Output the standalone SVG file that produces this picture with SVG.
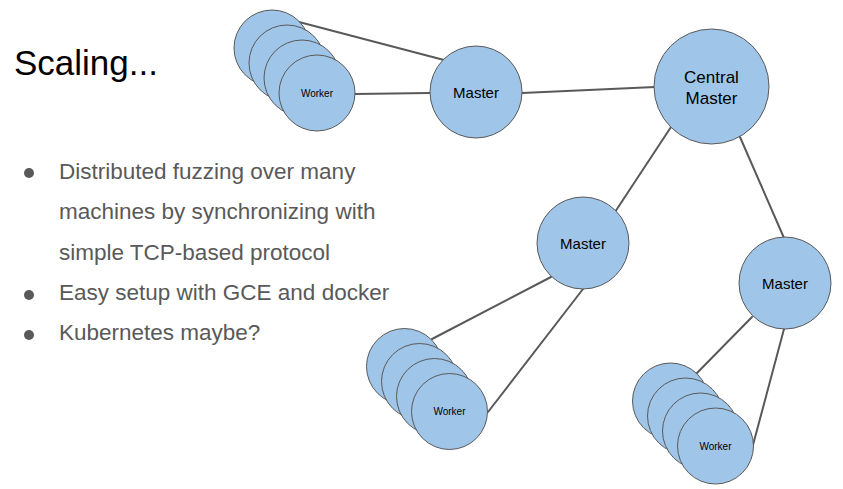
<svg xmlns="http://www.w3.org/2000/svg" width="843" height="489" viewBox="0 0 843 489">
<style>
.n{fill:#9fc5e8;stroke:#595959;stroke-width:1}
.e{stroke:#595959;stroke-width:2;fill:none;stroke-linecap:round}
.t{font-family:"Liberation Sans",Arial,sans-serif;fill:#000;text-anchor:middle}
.m{font-size:15px}
.c{font-size:17px}
.w{font-size:10px}
.b{font-family:"Liberation Sans",Arial,sans-serif;font-size:22.5px;fill:#595959}
</style>
<rect width="843" height="489" fill="#fff"/>
<text x="14" y="75" font-family="Liberation Sans, Arial, sans-serif" font-size="35" fill="#000">Scaling...</text>
<g id="bullets">
<circle cx="29" cy="173" r="5" fill="#595959"/>
<circle cx="29" cy="295" r="5" fill="#595959"/>
<circle cx="29" cy="335" r="5" fill="#595959"/>
<text class="b" x="59" y="179">Distributed fuzzing over many</text>
<text class="b" x="59" y="219">machines by synchronizing with</text>
<text class="b" x="59" y="260">simple TCP-based protocol</text>
<text class="b" x="59" y="300">Easy setup with GCE and docker</text>
<text class="b" x="59" y="340">Kubernetes maybe?</text>
</g>
<g id="connectors">
<line class="e" x1="299" y1="22" x2="444" y2="60"/>
<line class="e" x1="355" y1="94" x2="430" y2="93"/>
<line class="e" x1="522" y1="93" x2="655" y2="87"/>
<line class="e" x1="671" y1="127" x2="615" y2="212"/>
<line class="e" x1="740" y1="137" x2="784" y2="238"/>
<line class="e" x1="551" y1="277" x2="432" y2="339"/>
<line class="e" x1="583" y1="289" x2="488" y2="412"/>
<line class="e" x1="752" y1="317" x2="697" y2="373"/>
<line class="e" x1="784" y1="329" x2="753" y2="445"/>
</g>
<g id="workers-top">
<circle class="n" cx="272" cy="48" r="38"/>
<circle class="n" cx="287" cy="63" r="38"/>
<circle class="n" cx="302" cy="78" r="38"/>
<circle class="n" cx="317" cy="93" r="38"/>
<text class="t w" x="317" y="96.5">Worker</text>
</g>
<g id="master-top">
<circle class="n" cx="476" cy="92" r="46"/>
<text class="t m" x="476" y="97.5">Master</text>
</g>
<g id="central-master">
<circle class="n" cx="711.5" cy="86.5" r="57.5"/>
<text class="t c" x="711.5" y="83">Central</text>
<text class="t c" x="711.5" y="103.5">Master</text>
</g>
<g id="master-mid">
<circle class="n" cx="583" cy="243" r="46"/>
<text class="t m" x="583" y="248.5">Master</text>
</g>
<g id="master-right">
<circle class="n" cx="785" cy="283" r="46"/>
<text class="t m" x="785" y="288.5">Master</text>
</g>
<g id="workers-mid">
<circle class="n" cx="404.5" cy="366.5" r="38"/>
<circle class="n" cx="419.5" cy="381.5" r="38"/>
<circle class="n" cx="434.5" cy="396.5" r="38"/>
<circle class="n" cx="449.5" cy="411.5" r="38"/>
<text class="t w" x="449.5" y="415">Worker</text>
</g>
<g id="workers-right">
<circle class="n" cx="670.5" cy="401" r="38"/>
<circle class="n" cx="685.5" cy="416" r="38"/>
<circle class="n" cx="700.5" cy="431" r="38"/>
<circle class="n" cx="715.5" cy="446" r="38"/>
<text class="t w" x="715.5" y="449.5">Worker</text>
</g>
</svg>
